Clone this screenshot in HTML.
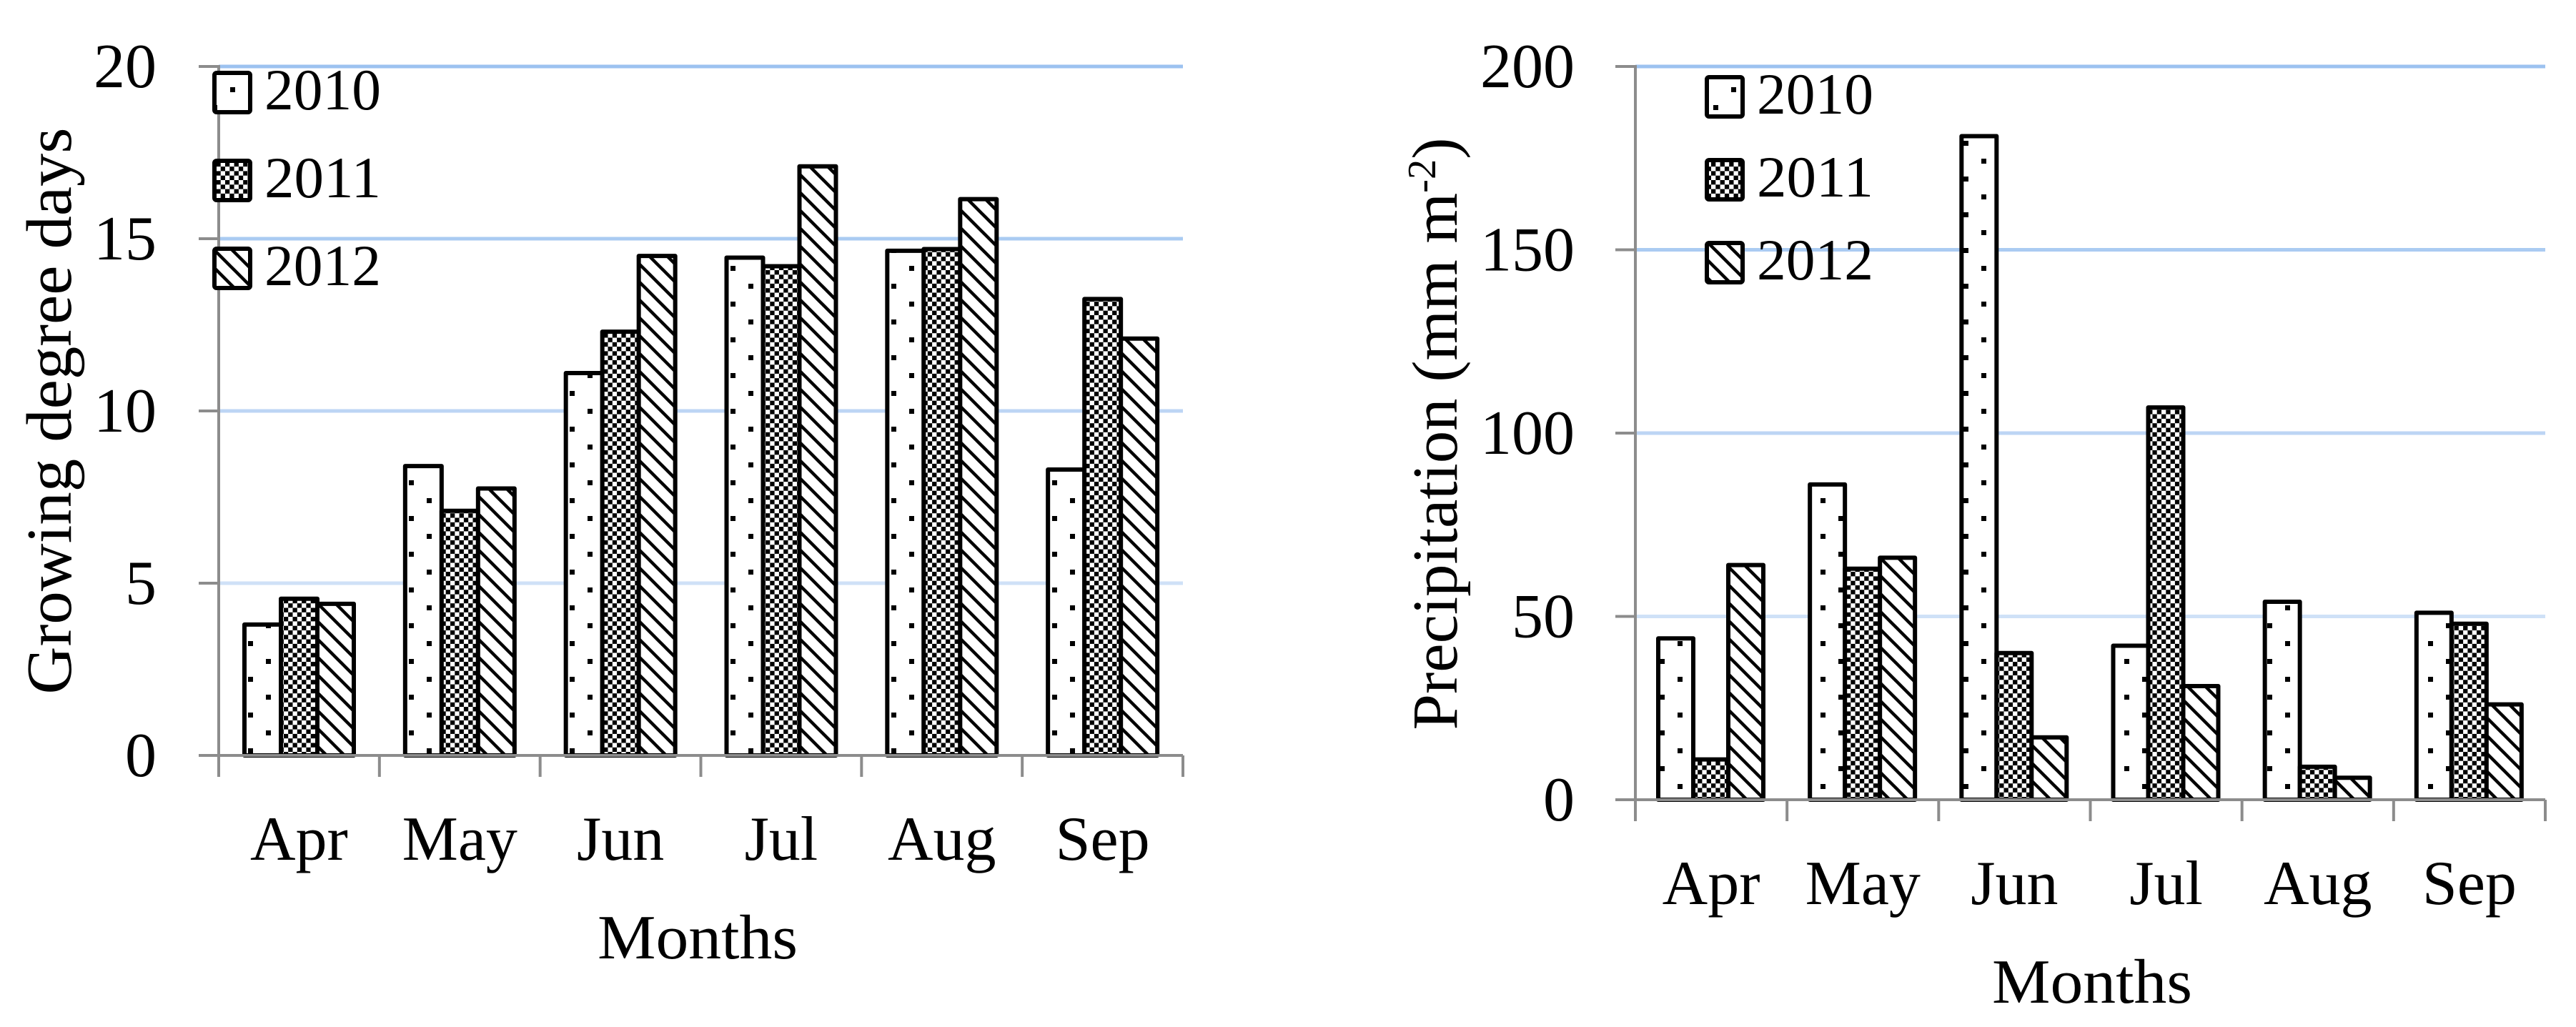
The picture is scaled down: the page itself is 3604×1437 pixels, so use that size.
<!DOCTYPE html>
<html><head><meta charset="utf-8"><style>
html,body{margin:0;padding:0;background:#fff;}
svg{display:block;}
text{font-family:"Liberation Serif",serif;fill:#000;}
</style></head>
<body>
<svg id="fig" width="3604" height="1437" viewBox="0 0 3604 1437" xmlns="http://www.w3.org/2000/svg">
<defs>
<pattern id="pDots" patternUnits="userSpaceOnUse" width="50" height="50">
<rect x="22" y="22" width="7" height="7" fill="#000"/>
<rect x="-3" y="-3" width="7" height="7" fill="#000"/>
<rect x="47" y="-3" width="7" height="7" fill="#000"/>
<rect x="-3" y="47" width="7" height="7" fill="#000"/>
<rect x="47" y="47" width="7" height="7" fill="#000"/>
</pattern>
<pattern id="pCheck" patternUnits="userSpaceOnUse" width="12.6" height="12.6">
<rect x="0" y="0" width="6.3" height="6.3" fill="#000"/>
<rect x="6.3" y="6.3" width="6.3" height="6.3" fill="#000"/>
</pattern>
<pattern id="pDiag" patternUnits="userSpaceOnUse" width="25" height="25">
<line x1="-5" y1="-5" x2="30" y2="30" stroke="#000" stroke-width="4.5"/>
<line x1="-30" y1="-5" x2="5" y2="30" stroke="#000" stroke-width="4.5"/>
<line x1="20" y1="-5" x2="55" y2="30" stroke="#000" stroke-width="4.5"/>
</pattern>
</defs>
<g id="left"></g>
<g id="right"></g>
</svg>
<script>
const months = ["Apr","May","Jun","Jul","Aug","Sep"];
const years = ["2010","2011","2012"];
const gdd2010 = [3.8, 8.4, 11.1, 14.45, 14.65, 8.3];
const gdd2011 = [4.55, 7.1, 12.3, 14.2, 14.7, 13.25];
const gdd2012 = [4.4, 7.75, 14.5, 17.1, 16.15, 12.1];
const gddTicks = [0, 5, 10, 15, 20];
const pre2010 = [44, 86, 181, 42, 54, 51];
const pre2011 = [11, 63, 40, 107, 9, 48];
const pre2012 = [64, 66, 17, 31, 6, 26];
const preTicks = [0, 50, 100, 150, 200];

const NS = "http://www.w3.org/2000/svg";
const fills = ["url(#pDots)", "url(#pCheck)", "url(#pDiag)"];
const gridCols = ["#cfe1f7", "#bdd5f4", "#aacbf2", "#9cc2f0"];
function mk(parent, tag, attrs){const e=document.createElementNS(NS,tag);for(const k in attrs)e.setAttribute(k,attrs[k]);parent.appendChild(e);return e;}

function chart(g, cfg){
  const {x0, x1, y0, y1, max, ticks, series, ytitle, leg} = cfg;
  const catW = (x1 - x0) / months.length;
  const yS = v => y0 - (v / max) * (y0 - y1);
  const xS = i => x0 + i * catW;
  ticks.forEach((t, i) => {
    if (t === 0) return;
    const l = mk(g, "line", {x1: x0, x2: x1, y1: yS(t), y2: yS(t), stroke: gridCols[i-1] || "#9cc2f0", "stroke-width": 5});
    
    
  });
  const bw = cfg.bw, off = cfg.off;
  series.forEach((arr, s) => {
    arr.forEach((v, i) => {
      const bx = xS(i) + off + s * bw;
      const r = mk(g, "rect", {x: bx, y: yS(v), width: bw, height: y0 - yS(v), fill: "#fff", stroke: "none"});
      
      
      const p = mk(g, "rect", {x: bx, y: yS(v), width: bw, height: y0 - yS(v), fill: fills[s], stroke: "#000", "stroke-width": 6, "stroke-linejoin": "round"});
      
      
    });
  });
  const ya = mk(g, "line", {x1: x0, x2: x0, y1: y1 - 2, y2: y0 + 30, stroke: "#8c8c8c", "stroke-width": 4});
  
  
  const xa = mk(g, "line", {x1: x0 - 28, x2: x1, y1: y0, y2: y0, stroke: "#8c8c8c", "stroke-width": 4});
  
  
  ticks.forEach(t => {
    const tk = mk(g, "line", {x1: x0 - 28, x2: x0, y1: yS(t), y2: yS(t), stroke: "#8c8c8c", "stroke-width": 4});
    
    
    const tx = mk(g, "text", {x: cfg.labR, y: yS(t) + 29, "text-anchor": "end", "font-size": 88});
    tx.textContent = t;
    
    
  });
  for (let i = 1; i <= months.length; i++) {
    const tk = mk(g, "line", {x1: xS(i), x2: xS(i), y1: y0, y2: y0 + 30, stroke: "#8c8c8c", "stroke-width": 4});
    
    
  }
  months.forEach((m, i) => {
    const tx = mk(g, "text", {x: xS(i) + catW / 2, y: cfg.monY, "text-anchor": "middle", "font-size": 88});
    tx.textContent = m;
    
    
  });
  const xt = mk(g, "text", {x: cfg.xtX, y: cfg.xtY, "text-anchor": "middle", "font-size": 88, textLength: 280, lengthAdjust: "spacingAndGlyphs"});
  xt.textContent = "Months";
  
  
  const yt = mk(g, "text", {x: 0, y: 0, "text-anchor": "middle", "font-size": 90, transform: `translate(${ytitle.x},${ytitle.y}) rotate(-90)`, textLength: ytitle.len, lengthAdjust: "spacingAndGlyphs"});
  
  
  if (ytitle.sup) {
    yt.appendChild(document.createTextNode("Precipitation (mm m"));
    const sp = mk(yt, "tspan", {dy: -30, "font-size": 56}); sp.textContent = "-2";
    const sp2 = mk(yt, "tspan", {dy: 30}); sp2.textContent = ")";
  } else {
    yt.textContent = ytitle.text;
  }
  years.forEach((y, s) => {
    const ly = leg.y + s * leg.dy;
    const lg = mk(g, "g", {});
    
    
    mk(lg, "rect", {x: leg.x, y: ly, width: 50, height: 55, fill: "#fff"});
    mk(lg, "rect", {x: leg.x, y: ly, width: 50, height: 55, fill: fills[s], stroke: "#000", "stroke-width": 6, rx: 3});
    const tx = mk(lg, "text", {x: leg.x + 70, y: ly + 51, "font-size": 82, textLength: 163, lengthAdjust: "spacingAndGlyphs"});
    tx.textContent = y;
  });
}

chart(document.getElementById("left"), {
  x0: 306, x1: 1655, y0: 1057, y1: 93, max: 20, ticks: gddTicks,
  series: [gdd2010, gdd2011, gdd2012], bw: 51, off: 36, labR: 219, monY: 1203,
  xtX: 976, xtY: 1341,
  ytitle: {x: 99, y: 575, len: 793, text: "Growing degree days"},
  leg: {x: 300, y: 102, dy: 123}
});
chart(document.getElementById("right"), {
  x0: 2288, x1: 3561, y0: 1119, y1: 93, max: 200, ticks: preTicks,
  series: [pre2010, pre2011, pre2012], bw: 49, off: 32, labR: 2203, monY: 1265,
  xtX: 2927, xtY: 1403,
  ytitle: {x: 2038, y: 607, len: 829, sup: true},
  leg: {x: 2388, y: 108, dy: 116}
});
</script>
</body></html>
